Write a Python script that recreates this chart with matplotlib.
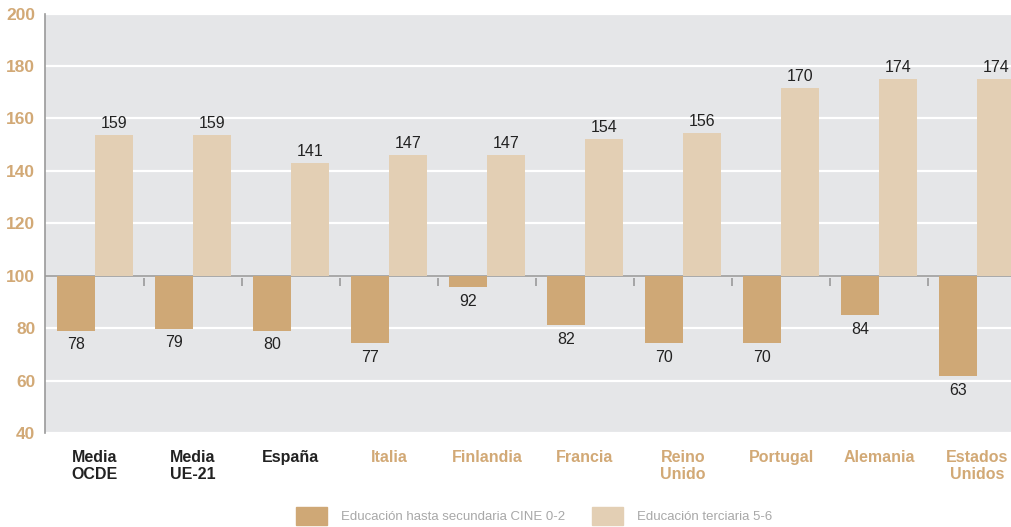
import matplotlib.pyplot as plt
import matplotlib.patches as mpatches
import numpy as np

# --- data ---
categories = ['Media\nOCDE', 'Media\nUE-21', 'España', 'Italia', 'Finlandia',
              'Francia', 'Reino\nUnido', 'Portugal', 'Alemania', 'Estados\nUnidos']
# bar heights as drawn in the picture
secundaria = [79.0, 79.8, 79.0, 74.2, 95.6, 81.1, 74.2, 74.2, 84.9, 61.6]
terciaria = [153.7, 153.7, 143.0, 146.1, 146.1, 152.2, 154.5, 171.6, 175.0, 175.0]
# value labels as printed
secundaria_lbl = ['78', '79', '80', '77', '92', '82', '70', '70', '84', '63']
terciaria_lbl = ['159', '159', '141', '147', '147', '154', '156', '170', '174', '174']
black_labels = ['Media\nOCDE', 'Media\nUE-21', 'España']

BASE = 100
C_LOW = '#CFA876'
C_HIGH = '#E3CFB4'
C_TAN = '#D2A976'
C_BG = '#E5E6E8'

plt.rcParams['font.family'] = ['Liberation Sans Narrow', 'Liberation Sans', 'DejaVu Sans']

fig = plt.figure(figsize=(10.12, 5.27), dpi=100)
ax = fig.add_axes([45 / 1012, 1 - 433 / 527, 1 - 45 / 1012, (433 - 13.5) / 527])
ax.set_facecolor(C_BG)

x = np.arange(len(categories))
w = 0.388

ax.axhline(BASE, color='#9a9a9a', lw=1.2, zorder=1.5)
ax.bar(x - w / 2, np.array(secundaria) - BASE, bottom=BASE, width=w, color=C_LOW, zorder=2)
ax.bar(x + w / 2, np.array(terciaria) - BASE, bottom=BASE, width=w, color=C_HIGH, zorder=2)

# small separators between groups
ax.vlines(x[:-1] + 0.5, 95.9, 99.2, color='#9a9a9a', lw=1.2, zorder=1.5)

for i in range(len(categories)):
    ax.text(x[i] - w / 2, secundaria[i] - 2.5, secundaria_lbl[i], ha='center', va='top',
            fontsize=11.5, color='#222222')
    ax.text(x[i] + w / 2, terciaria[i] + 1.5, terciaria_lbl[i], ha='center', va='bottom',
            fontsize=11.5, color='#222222')

ax.set_ylim(40, 200)
ax.set_xlim(-0.51, 9.357)
ax.set_yticks(range(40, 201, 20))
ax.yaxis.grid(True, color='white', lw=1.6)
ax.set_axisbelow(True)
ax.tick_params(axis='y', length=0, pad=7, labelsize=12.5, labelcolor=C_TAN)
for t in ax.get_yticklabels():
    t.set_fontweight('bold')

ax.set_xticks(x)
ax.set_xticklabels(categories, fontsize=11.5, fontweight='bold')
ax.tick_params(axis='x', length=0, pad=12)
for t, c in zip(ax.get_xticklabels(), categories):
    t.set_color('#222222' if c in black_labels else C_TAN)

for s in ['top', 'right', 'bottom']:
    ax.spines[s].set_visible(False)
ax.spines['left'].set_color('#9a9a9a')
ax.spines['left'].set_linewidth(1.2)

handles = [mpatches.Patch(color=C_LOW, label='Educación hasta secundaria CINE 0-2'),
           mpatches.Patch(color=C_HIGH, label='Educación terciaria 5-6')]
leg = fig.legend(handles=handles, loc='center', bbox_to_anchor=(0.528, 1 - 516 / 527),
                 ncol=2, frameon=False, fontsize=9.5, handlelength=2.35, handleheight=1.75,
                 handletextpad=1.05, columnspacing=2.05)
for t in leg.get_texts():
    t.set_color('#a8a8a8')

fig.savefig('out.png', dpi=100)
